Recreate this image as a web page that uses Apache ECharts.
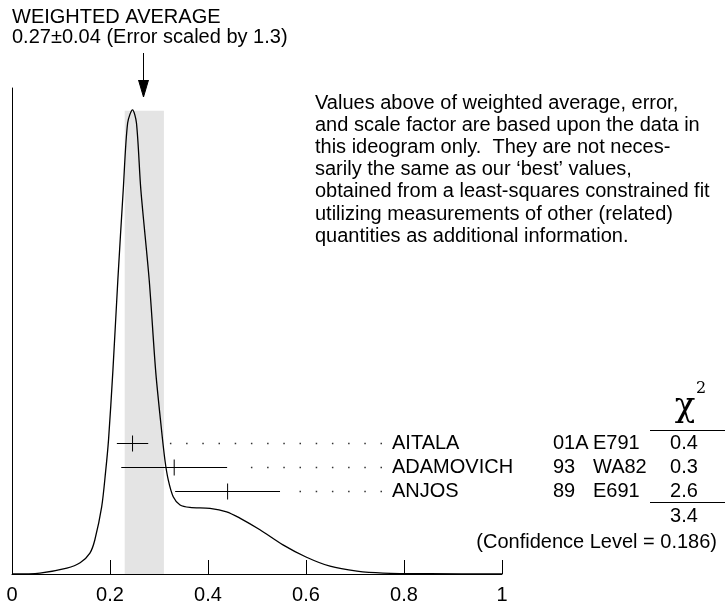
<!DOCTYPE html>
<html>
<head>
<meta charset="utf-8">
<script src="https://cdn.jsdelivr.net/npm/echarts@6/dist/echarts.min.js"></script>
<style>
  html, body { margin: 0; padding: 0; background: #fff; }
  #chart { width: 726px; height: 607px; }
</style>
</head>
<body>
<div id="chart"></div>
<script>
// ideogram curve (x = value, y = relative height)
var curveX = [0.0, 0.057, 0.112, 0.139, 0.159, 0.169, 0.183, 0.191, 0.197, 0.206, 0.216, 0.227, 0.236, 0.246,
              0.254, 0.263, 0.280, 0.293, 0.303, 0.312, 0.319, 0.329, 0.343, 0.363, 0.404, 0.438, 0.465,
              0.506, 0.553, 0.600, 0.649, 0.704, 0.757, 0.853, 1.0];
var curveY = [0, 0.2, 1.2, 2.3, 4.3, 7.0, 13.8, 21.0, 27.6, 42.0, 60.5, 79.0, 92.8, 95.5,
              92.8, 79.0, 60.5, 42.0, 31.7, 23.5, 19.3, 15.9, 14.2, 13.7, 13.5, 12.8, 11.5,
              9.1, 6.0, 3.5, 1.6, 0.6, 0.2, 0.05, 0];

// measurements
var names = ['AITALA', 'ADAMOVICH', 'ANJOS'];
var years = ['01A', '93', '89'];
var expts = ['E791', 'WA82', 'E691'];
var chi2 = ['0.4', '0.3', '2.6'];
var means = [0.246, 0.331, 0.440];
var errors = [0.032, 0.108, 0.107];

// weighted average and its band
var avgValue = 0.27;
var avgError = 0.04;
var bandTop = 95.3;
var chi2Total = '3.4';
var confLevel = '(Confidence Level = 0.186)';

var xTicks = ['0', '0.2', '0.4', '0.6', '0.8', '1'];

var FONT = 'Liberation Sans, Arial, Helvetica, sans-serif';
var SERIF = 'DejaVu Serif, Liberation Serif, serif';

var curveData = curveX.map(function (x, i) { return [x, curveY[i]]; });
var barData = means.map(function (m, i) { return [m, errors[i], i]; });

var chart = echarts.init(document.getElementById('chart'));

// row text of the table on the right
var rowY = [443, 467, 491];
var tableText = [];
names.forEach(function (n, i) {
    tableText.push({ type: 'text', x: 392, y: rowY[i], style: { text: n, font: '20px ' + FONT, fill: '#000', verticalAlign: 'middle' } });
    tableText.push({ type: 'text', x: 553, y: rowY[i], style: { text: years[i], font: '20px ' + FONT, fill: '#000', verticalAlign: 'middle' } });
    tableText.push({ type: 'text', x: 593, y: rowY[i], style: { text: expts[i], font: '20px ' + FONT, fill: '#000', verticalAlign: 'middle' } });
    tableText.push({ type: 'text', x: 684, y: rowY[i], style: { text: chi2[i], font: '20px ' + FONT, fill: '#000', align: 'center', verticalAlign: 'middle' } });
});

var option = {
    animation: false,
    backgroundColor: '#fff',
    grid: [
        { left: 12, right: 224, top: 88, bottom: 33 },
        { left: 12, right: 224, top: 431.5, height: 72 }
    ],
    xAxis: [
        {
            gridIndex: 0, type: 'value', min: 0, max: 1, interval: 0.2,
            axisLine: { lineStyle: { color: '#000', width: 1 } },
            axisTick: { inside: true, length: 14, lineStyle: { color: '#000' } },
            axisLabel: {
                color: '#000', fontSize: 20, fontFamily: FONT, margin: 11,
                formatter: function (v) { return xTicks[Math.round(v / 0.2)]; }
            },
            splitLine: { show: false }
        },
        { gridIndex: 1, type: 'value', min: 0, max: 1, show: false }
    ],
    yAxis: [
        {
            gridIndex: 0, type: 'value', min: 0, max: 100,
            axisLine: { show: true, lineStyle: { color: '#000', width: 1 } },
            axisTick: { show: false }, axisLabel: { show: false }, splitLine: { show: false }
        },
        { gridIndex: 1, type: 'category', data: names, inverse: true, show: false }
    ],
    series: [
        // shaded band of the weighted average
        {
            type: 'custom', xAxisIndex: 0, yAxisIndex: 0, z: 1,
            data: [[avgValue, avgError, bandTop]],
            renderItem: function (params, api) {
                var a = api.coord([api.value(0) - api.value(1), api.value(2)]);
                var b = api.coord([api.value(0) + api.value(1), 0]);
                return { type: 'rect', shape: { x: a[0], y: a[1], width: b[0] - a[0], height: b[1] - a[1] }, style: { fill: '#e4e4e4' } };
            }
        },
        // arrow at the weighted average
        {
            type: 'custom', xAxisIndex: 0, yAxisIndex: 0, z: 5,
            data: [[avgValue]],
            renderItem: function (params, api) {
                var x = Math.round(api.coord([api.value(0), 0])[0]) - 0.5;
                var st = { stroke: '#000', lineWidth: 1 };
                return {
                    type: 'group', children: [
                        { type: 'line', shape: { x1: x, y1: 53, x2: x, y2: 97 }, style: st },
                        { type: 'polyline', shape: { points: [[x - 5, 80], [x, 97], [x + 5, 80]] }, style: st }
                    ]
                };
            }
        },
        // ideogram curve
        {
            type: 'line', xAxisIndex: 0, yAxisIndex: 0, z: 3,
            data: curveData, showSymbol: false, smooth: 0.3,
            lineStyle: { color: '#000', width: 1.3 }
        },
        // error bars and dotted leaders
        {
            type: 'custom', xAxisIndex: 1, yAxisIndex: 1, z: 4,
            data: barData,
            renderItem: function (params, api) {
                var v = api.value(0), e = api.value(1), row = api.value(2);
                var c = api.coord([v, row]);
                var lo = api.coord([v - e, row]);
                var hi = api.coord([v + e, row]);
                var st = { stroke: '#000', lineWidth: 1 };
                return {
                    type: 'group', children: [
                        { type: 'line', shape: { x1: lo[0], y1: c[1], x2: hi[0], y2: c[1] }, style: st },
                        { type: 'line', shape: { x1: c[0], y1: c[1] - 8, x2: c[0], y2: c[1] + 8 }, style: st },
                        { type: 'line', shape: { x1: 382, y1: c[1], x2: hi[0] + 18, y2: c[1] },
                          style: { stroke: '#333', lineWidth: 1.5, lineDash: [1.5, 14.7] } }
                    ]
                };
            }
        }
    ],
    graphic: [
        { type: 'text', x: 12, y: 17.5, style: { text: 'WEIGHTED AVERAGE', font: '20px ' + FONT, fill: '#000', verticalAlign: 'middle' } },
        { type: 'text', x: 12, y: 37, style: { text: '0.27\u00b10.04 (Error scaled by 1.3)', font: '20px ' + FONT, fill: '#000', verticalAlign: 'middle' } },
        {
            type: 'text', x: 315, y: 92,
            style: {
                text: 'Values above of weighted average, error,\nand scale factor are based upon the data in\nthis ideogram only.  They are not neces-\nsarily the same as our \u2018best\u2019 values,\nobtained from a least-squares constrained fit\nutilizing measurements of other (related)\nquantities as additional information.',
                font: '20px ' + FONT, fill: '#000', lineHeight: 22.2, verticalAlign: 'top'
            }
        },
        // chi-square header and rules
        { type: 'text', x: 685, y: 407, style: { text: '\u03c7', font: '34px ' + SERIF, fill: '#000', align: 'center', verticalAlign: 'middle' } },
        { type: 'text', x: 701, y: 389, style: { text: '2', font: '16px ' + SERIF, fill: '#000', align: 'center', verticalAlign: 'middle' } },
        { type: 'line', shape: { x1: 650, y1: 430.5, x2: 725, y2: 430.5 }, style: { stroke: '#000', lineWidth: 1 } },
        { type: 'line', shape: { x1: 650, y1: 502.5, x2: 725, y2: 502.5 }, style: { stroke: '#000', lineWidth: 1 } },
        { type: 'text', x: 684, y: 516.5, style: { text: chi2Total, font: '20px ' + FONT, fill: '#000', align: 'center', verticalAlign: 'middle' } },
        { type: 'text', x: 717, y: 542, style: { text: confLevel, font: '20px ' + FONT, fill: '#000', align: 'right', verticalAlign: 'middle' } }
    ].concat(tableText)
};

chart.setOption(option);
</script>
</body>
</html>
